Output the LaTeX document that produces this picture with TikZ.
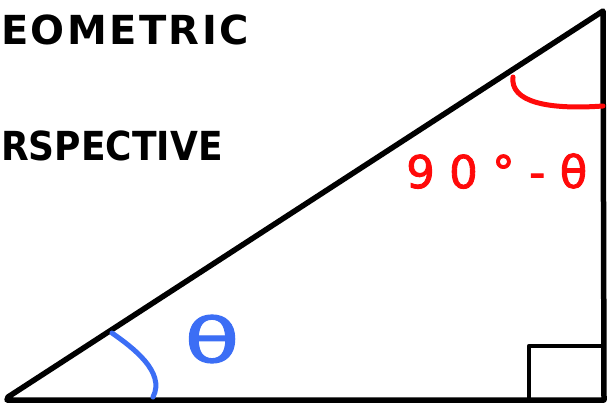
\documentclass[tikz,border=0pt]{standalone}
\usepackage{fontspec}
\setmainfont{DejaVu Sans}
\definecolor{penred}{RGB}{255,10,10}
\definecolor{penblue}{RGB}{60,110,245}
\begin{document}
\begin{tikzpicture}[x=1pt,y=-1pt,
  edge/.style={line width=5.5pt,line join=round,line cap=round,black},
  thin edge/.style={line width=4.5pt,line join=round,line cap=round,black},
  redpen/.style={line width=5pt,line cap=round,penred},
  bluepen/.style={line width=5pt,line cap=round,penblue},
  title/.style={anchor=base west,inner sep=0pt,font=\bfseries\fontsize{40}{40}\selectfont\addfontfeature{LetterSpace=6}}]
\useasboundingbox (0,0) rectangle (607,404);
\coordinate (A) at (8,397);
\coordinate (B) at (604,400);
\coordinate (C) at (603,11);
\draw[edge] (B) -- (7,400) -- (A) -- (C) -- (B);
% right angle mark
\coordinate (S1) at (529,400);
\coordinate (S2) at (529,346);
\coordinate (S3) at (603,346);
\draw[thin edge] (S1) -- (S2) -- (S3);
% angle arcs
\coordinate (R1) at (513,77);
\coordinate (R2) at (603,106);
\draw[redpen] (R1) .. controls (510,102) and (548,110) .. (R2);
\coordinate (B1) at (112,333);
\coordinate (B2) at (153,397);
\draw[bluepen] (B1) .. controls (132,347) and (166,372) .. (B2);
% texts
\node[title] (t1) at (1,45) {EOMETRIC};
\node[title,xscale=0.9,font=\bfseries\fontsize{40}{40}\selectfont] (t2) at (1,160) {RSPECTIVE};
\node[anchor=base west,inner sep=0pt,text=penred,font=\fontsize{45}{45}\selectfont\addfontfeature{LetterSpace=32,FakeBold=2}] (red) at (406,188) {90°-θ};
\node[inner sep=0pt,text=penblue,xscale=1.45,font=\fontsize{62}{62}\selectfont\addfontfeature{FakeBold=1.5}] (theta) at (212,339) {θ};
\end{tikzpicture}
\end{document}
